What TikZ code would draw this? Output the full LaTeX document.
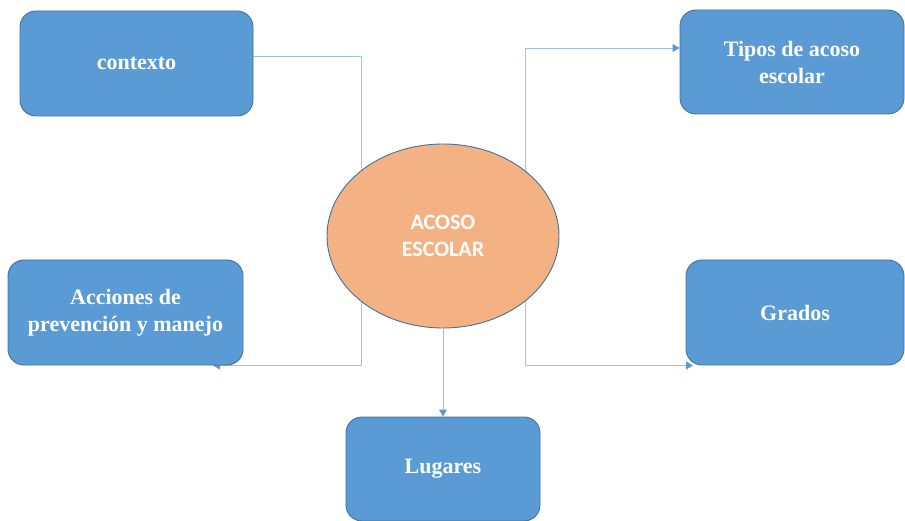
\documentclass[tikz,border=0pt]{standalone}
\usepackage{fontspec}
\setmainfont{Liberation Serif}
\newfontfamily\calib{Carlito}
\usetikzlibrary{arrows.meta,backgrounds,shapes.geometric}
\definecolor{boxblue}{HTML}{5B9BD5}
\definecolor{boxedge}{HTML}{41719C}
\definecolor{ellfill}{HTML}{F4B183}
\definecolor{linkblue}{HTML}{9DC3E6}
\tikzset{
  topic/.style={rectangle, rounded corners=16pt, fill=boxblue, draw=boxedge, line width=0.9pt,
    text=white, font=\fontsize{22}{27}\selectfont\bfseries, align=center, inner sep=0pt},
  core/.style={ellipse, fill=ellfill, draw=boxedge, line width=0.9pt, inner sep=0pt,
    minimum width=232pt, minimum height=184pt, text=white,
    font=\calib\fontsize{22}{27}\selectfont\bfseries, align=center},
  link/.style={draw=linkblue, line width=0.9pt},
  linkarrow/.style={link, -{Triangle[width=8pt,length=7pt,fill=boxblue,color=boxblue]}}
}
\begin{document}
\begin{tikzpicture}[x=1pt,y=-1pt]
\useasboundingbox (0,0) rectangle (905,521);
\node[topic, minimum width=233pt, minimum height=105pt] (ctx) at (136.5,63.5) {\raisebox{-2pt}{contexto}};
\node[topic, minimum width=224pt, minimum height=104pt] (tip) at (792,62) {\raisebox{-2pt}{Tipos de acoso}\\\raisebox{-2pt}{escolar}};
\node[topic, minimum width=235pt, minimum height=105pt] (acc) at (125.5,312.5) {\raisebox{-2pt}{Acciones de}\\\raisebox{-2pt}{prevención y manejo}};
\node[topic, minimum width=218pt, minimum height=105pt] (gra) at (795,312.5) {\raisebox{-2pt}{Grados}};
\node[topic, minimum width=194pt, minimum height=104pt] (lug) at (443,469) {\raisebox{-2pt}{Lugares}};
\node[core] (ell) at (443,236) {ACOSO\\ESCOLAR};
\begin{scope}[on background layer]
  \draw[link] ([yshift=7.5pt]ctx.east) -| ([xshift=-82pt]ell.center);
  \draw[linkarrow] ([xshift=82pt]ell.center) |- ([yshift=14pt]tip.west);
  \draw[linkarrow] ([xshift=-82pt]ell.center) |- ([xshift=87.5pt]acc.south);
  \draw[linkarrow] ([xshift=82pt]ell.center) |- ([xshift=-102pt]gra.south);
\end{scope}
\draw[linkarrow] (ell.south) -- (lug.north);
\end{tikzpicture}
\end{document}
